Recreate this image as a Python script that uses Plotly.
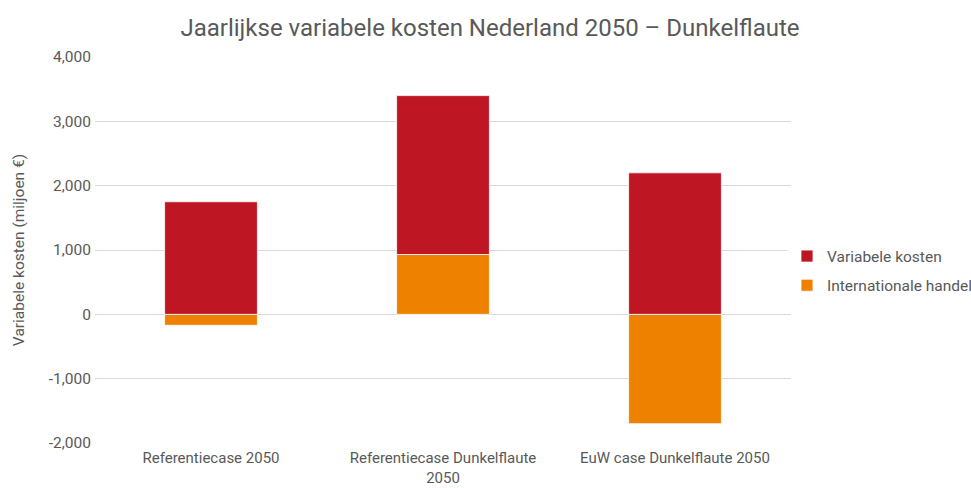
import plotly.graph_objects as go

categories = ["Referentiecase 2050", "Referentiecase Dunkelflaute<br>2050", "EuW case Dunkelflaute 2050"]
internationale_handel = [-170, 930, -1700]
variabele_kosten = [1750, 2470, 2200]
y_ticks = [-2000, -1000, 0, 1000, 2000, 3000, 4000]
y_tick_labels = ["-2,000", "-1,000", "0", "1,000", "2,000", "3,000", "4,000"]

font_family = "Roboto, Liberation Sans, sans-serif"
grey = "#595959"
W, H = 971, 488

fig = go.Figure()
fig.add_trace(go.Bar(
    x=categories, y=internationale_handel, name="Internationale handel",
    legendgroup="handel", legendrank=2,
    marker=dict(color="#EE8100", line=dict(color="white", width=0.8)),
))
fig.add_trace(go.Bar(
    x=categories, y=variabele_kosten, name="Variabele kosten",
    legendgroup="kosten", legendrank=1,
    marker=dict(color="#BE1622", line=dict(color="white", width=0.8)),
))

fig.update_layout(
    barmode="relative",
    bargap=0.6,
    width=W, height=H,
    margin=dict(l=95, r=180, t=57, b=45, autoexpand=False),
    paper_bgcolor="white", plot_bgcolor="white",
    font=dict(family=font_family, color=grey, size=15),
    title=dict(
        text="Jaarlijkse variabele kosten Nederland 2050 – Dunkelflaute",
        x=490 / W, xref="container", y=1 - 28 / H, yref="container",
        xanchor="center", yanchor="middle",
        font=dict(size=24, color=grey, family=font_family),
    ),
    legend=dict(
        x=787 / W, xref="container", y=1 - 271 / H, yref="container",
        xanchor="left", yanchor="middle",
        traceorder="grouped", tracegroupgap=6,
        font=dict(size=15.5, color=grey),
        itemwidth=30,
    ),
    xaxis=dict(
        showgrid=False, showline=False, ticks="", automargin=False,
        tickfont=dict(size=15, color=grey), ticklabelstandoff=4,
    ),
    yaxis=dict(
        range=[-2000, 4000], tickvals=y_ticks, ticktext=y_tick_labels,
        showgrid=True, gridcolor="#d9d9d9", gridwidth=1,
        zeroline=False, showline=False, ticks="", automargin=False,
        tickfont=dict(size=15.5, color=grey), ticklabelstandoff=3,
        title=dict(text="Variabele kosten (miljoen €)", font=dict(size=15.5, color=grey), standoff=20),
    ),
)

fig.write_html("out.html")
